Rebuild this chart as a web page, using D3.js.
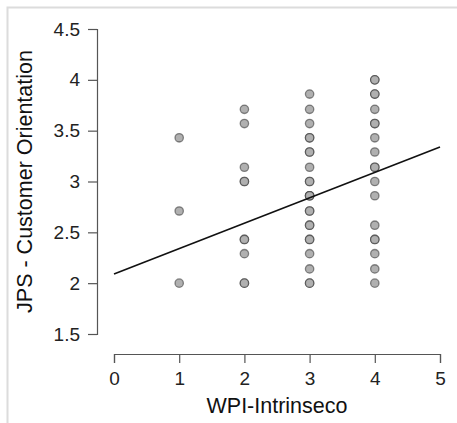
<!DOCTYPE html>
<html>
<head>
<meta charset="utf-8">
<script src="https://cdn.jsdelivr.net/npm/d3@7"></script>
<style>
  html, body { margin: 0; padding: 0; background: #fff; }
  svg { display: block; font-family: "Liberation Sans", Arial, sans-serif; }
</style>
</head>
<body>
<svg id="chart" width="457" height="423"></svg>
<script>
// JPS - Customer Orientation scores, grouped by WPI-Intrinseco score.
// Repeated scores are listed once per respondent, so overlapping points darken.
const wpiLevels = [1, 2, 3, 4];
const jpsAt1 = [3.43, 2.71, 2.00];
const jpsAt2 = [3.71, 3.57, 3.14, 3.00, 3.00, 2.43, 2.43, 2.29, 2.00, 2.00];
const jpsAt3 = [3.86, 3.71, 3.57, 3.43, 3.43, 3.29, 3.29, 3.14, 3.00, 3.00, 2.86, 2.86, 2.86,
                2.71, 2.71, 2.57, 2.57, 2.43, 2.43, 2.29, 2.14, 2.00, 2.00];
const jpsAt4 = [4.00, 4.00, 3.86, 3.86, 3.71, 3.57, 3.57, 3.43, 3.29, 3.14, 3.14, 3.00, 2.86,
                2.57, 2.43, 2.43, 2.29, 2.14, 2.00];
const jpsGroups = [jpsAt1, jpsAt2, jpsAt3, jpsAt4];

// Least-squares fit line
const fitIntercept = 2.09;
const fitSlope = 0.25;

const xTicks = [0, 1, 2, 3, 4, 5];
const yTicks = [1.5, 2, 2.5, 3, 3.5, 4, 4.5];
const xTitle = "WPI-Intrinseco";
const yTitle = "JPS - Customer Orientation";

const svg = d3.select("#chart");

// Light panel frame
svg.append("path")
  .attr("d", "M7.5,460 V7.5 H460")
  .attr("fill", "none")
  .attr("stroke", "#dcdcdc")
  .attr("stroke-width", 2);

const x = d3.scaleLinear().domain([0, 5]).range([114, 440]);
const y = d3.scaleLinear().domain([1.5, 4.5]).range([334, 29]);

const axisColor = "#555";
const tickFont = 19;
const titleFont = 21.5;

// X axis
const gx = svg.append("g")
  .attr("transform", "translate(0,354)")
  .call(d3.axisBottom(x).tickValues(xTicks).tickFormat(d3.format("d")).tickSizeOuter(0).tickSize(9).tickPadding(9));
gx.select(".domain").attr("stroke", axisColor).attr("stroke-width", 1.2);
gx.selectAll(".tick line").attr("stroke", axisColor).attr("stroke-width", 1.2);
gx.selectAll(".tick text").attr("fill", "#222").attr("font-size", tickFont)
  .attr("font-family", "Liberation Sans, Arial, sans-serif");

// Y axis
const gy = svg.append("g")
  .attr("transform", "translate(97,0)")
  .call(d3.axisLeft(y).tickValues(yTicks).tickFormat(d => String(d)).tickSizeOuter(0).tickSize(9).tickPadding(8));
gy.select(".domain").attr("stroke", axisColor).attr("stroke-width", 1.2);
gy.selectAll(".tick line").attr("stroke", axisColor).attr("stroke-width", 1.2);
gy.selectAll(".tick text").attr("fill", "#222").attr("font-size", tickFont)
  .attr("font-family", "Liberation Sans, Arial, sans-serif");

// Axis titles
svg.append("text")
  .attr("x", x(2.5))
  .attr("y", 413)
  .attr("text-anchor", "middle")
  .attr("font-size", titleFont)
  .attr("fill", "#111")
  .text(xTitle);

svg.append("text")
  .attr("transform", "translate(32," + y(3) + ") rotate(-90)")
  .attr("text-anchor", "middle")
  .attr("font-size", titleFont)
  .attr("fill", "#111")
  .text(yTitle);

// Scatter points
const points = wpiLevels.flatMap((lvl, i) => jpsGroups[i].map(v => ({ x: lvl, y: v })));
svg.append("g")
  .selectAll("circle")
  .data(points)
  .join("circle")
  .attr("cx", d => x(d.x))
  .attr("cy", d => y(d.y))
  .attr("r", 4.2)
  .attr("fill", "#b0b0b0")
  .attr("stroke", "#222")
  .attr("stroke-opacity", 0.5)
  .attr("stroke-width", 1.3);

// Regression line
svg.append("line")
  .attr("x1", x(0))
  .attr("y1", y(fitIntercept))
  .attr("x2", x(5))
  .attr("y2", y(fitIntercept + fitSlope * 5))
  .attr("stroke", "#111")
  .attr("stroke-width", 1.6);
</script>
</body>
</html>
